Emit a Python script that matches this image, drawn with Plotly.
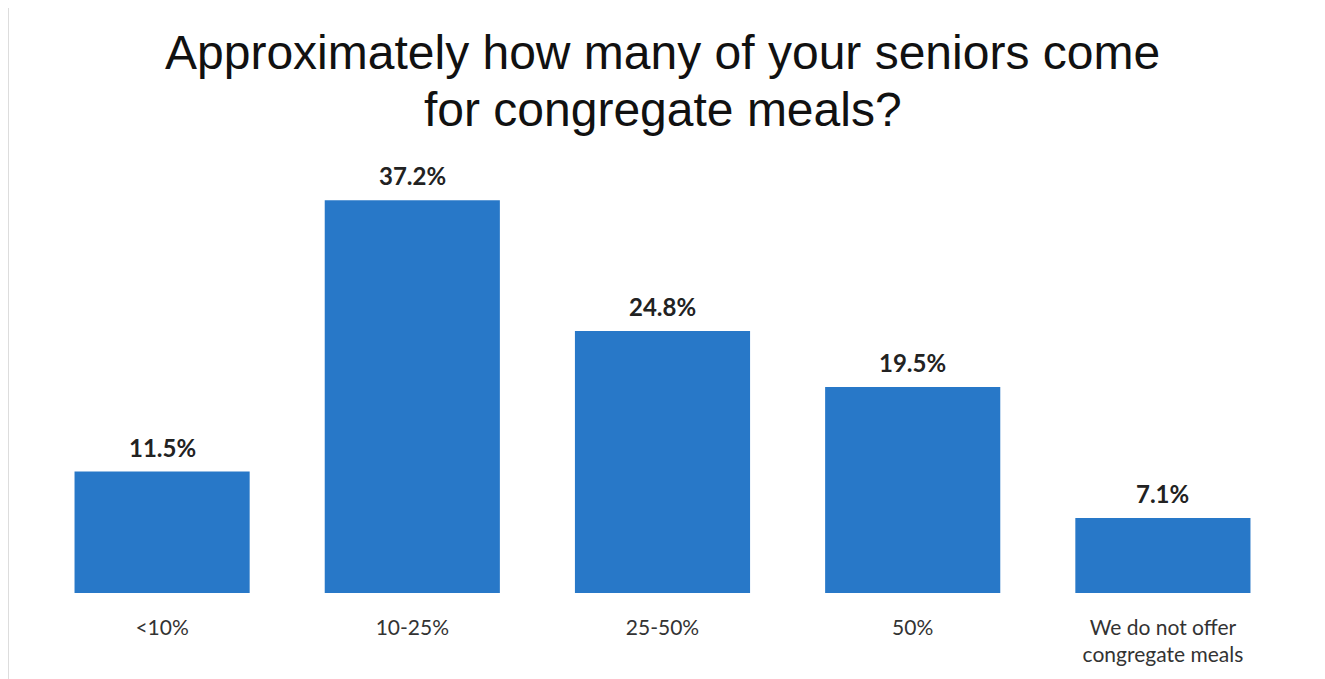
import plotly.graph_objects as go

categories = ["<10%", "10-25%", "25-50%", "50%", "We do not offer<br>congregate meals"]
values = [11.5, 37.2, 24.8, 19.5, 7.1]
labels = ["11.5%", "37.2%", "24.8%", "19.5%", "7.1%"]
title_lines = ["Approximately how many of your seniors come", "for congregate meals?"]

fig = go.Figure(go.Bar(
    x=categories, y=values,
    marker=dict(color="#2878C8", line=dict(width=0)),
    width=0.7,
    hoverinfo="x+y",
))

for c, v, t in zip(categories, values, labels):
    fig.add_annotation(
        x=c, y=v, text=t, showarrow=False, yanchor="bottom", yshift=8,
        font=dict(family="Lato", size=24, color="#222222", weight="bold"),
    )

for line, ypos in zip(title_lines, [1.248, 1.116]):
    fig.add_annotation(
        xref="paper", yref="paper", x=0.5, y=ypos, xanchor="center", yanchor="middle",
        text=line, showarrow=False,
        font=dict(family="Liberation Sans", size=48, color="#111111"),
    )

fig.add_shape(type="line", xref="paper", yref="paper", x0=-0.023, x1=-0.023, y0=-0.2, y1=1.37,
              line=dict(color="#dddddd", width=1.5))

# page body has an 8px offset; margins compensate so the plot area sits at x 37..1288, y 160..593
fig.update_layout(
    width=1325, height=679,
    paper_bgcolor="white", plot_bgcolor="white",
    margin=dict(l=29, r=45, t=152, b=94),
    showlegend=False,
)
fig.update_yaxes(range=[0, 41], visible=False)
fig.update_xaxes(showline=False, ticks="", automargin=False, ticklabelstandoff=20,
                 tickfont=dict(family="Lato", size=21, color="#333333"))

fig.write_html("out.html")
